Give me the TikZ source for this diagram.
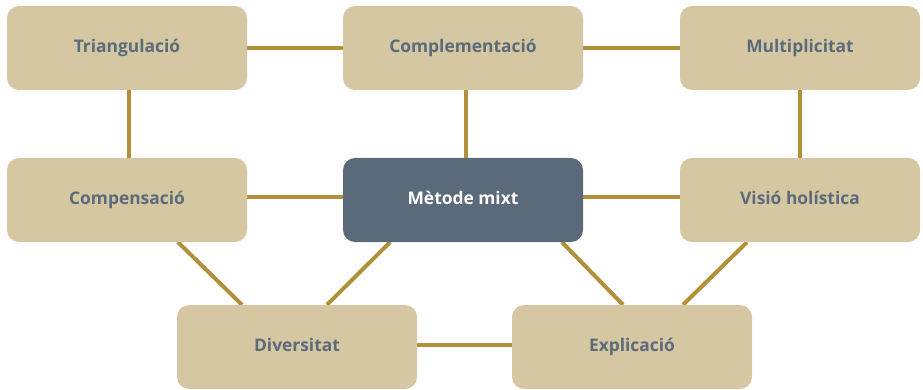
\documentclass[tikz,border=0pt]{standalone}
\usepackage{fontspec}
\setmainfont{Open Sans}
\usetikzlibrary{backgrounds}
\definecolor{boxfill}{HTML}{D5C7A1}
\definecolor{hubfill}{HTML}{5A6A7B}
\definecolor{boxtext}{HTML}{5B6B7C}
\definecolor{link}{HTML}{B38F3A}
\begin{document}
\begin{tikzpicture}[x=1pt,y=-1pt,
  box/.style={rectangle, rounded corners=12pt, fill=boxfill, minimum width=240pt,
    minimum height=84pt, inner sep=0pt, text=boxtext, text height=13pt, text depth=4pt,
    font=\fontsize{17.4}{20}\selectfont\bfseries},
  hub/.style={box, fill=hubfill, text=white},
  conn/.style={draw=link, line width=4pt}]
\useasboundingbox (0,0) rectangle (923,390);
\node[box] (tri)  at (127,48)  {Triangulació};
\node[box] (comp) at (463,48)  {Complementació};
\node[box] (mult) at (800,48)  {Multiplicitat};
\node[box] (cmp)  at (127,200) {Compensació};
\node[hub] (met)  at (463,200) {Mètode mixt};
\node[box] (vis)  at (800,200) {Visió holística};
\node[box] (div)  at (297,347) {Diversitat};
\node[box] (exp)  at (632,347) {Explicació};
\begin{scope}[on background layer]
  \draw[conn] (tri) -- (comp);
  \draw[conn] (comp) -- (mult);
  \draw[conn] ([xshift=2pt]tri.center) -- ([xshift=2pt]cmp.center);
  \draw[conn] ([xshift=3pt]comp.center) -- ([xshift=3pt]met.center);
  \draw[conn] (mult) -- (vis);
  \draw[conn] ([yshift=3pt]cmp.center) -- ([yshift=3pt]met.center);
  \draw[conn] ([yshift=3pt]met.center) -- ([yshift=3pt]vis.center);
  \draw[conn] ([yshift=2pt]div.center) -- ([yshift=2pt]exp.center);
  \draw[conn] ([xshift=51pt]cmp.south) -- ([xshift=-55pt]div.north);
  \draw[conn] ([xshift=-73pt]met.south) -- ([xshift=30pt]div.north);
  \draw[conn] ([xshift=99pt]met.south) -- ([xshift=-9pt]exp.north);
  \draw[conn] ([xshift=-53pt]vis.south) -- ([xshift=51pt]exp.north);
\end{scope}
\end{tikzpicture}
\end{document}
